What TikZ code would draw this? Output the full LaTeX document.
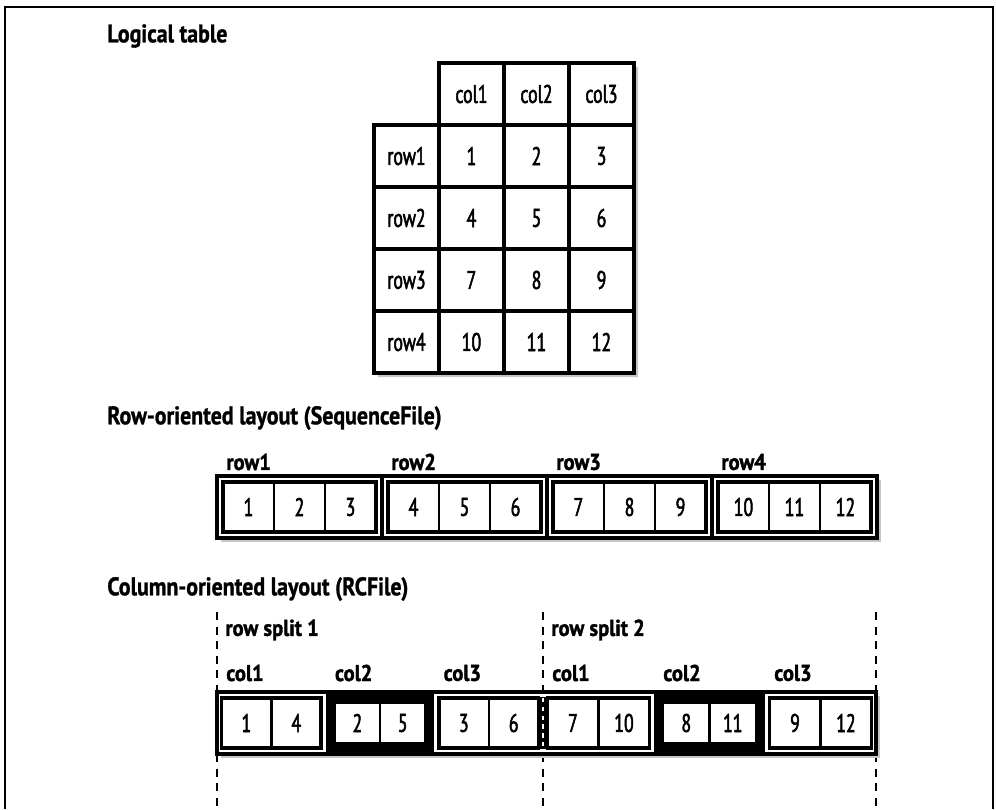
\documentclass[tikz,border=0pt]{standalone}
\usepackage{fontspec}
\setmainfont{PT Sans}[FakeStretch=0.86]
\newfontfamily\titlefont{PT Sans Bold}[FakeStretch=0.86, FakeBold=1]
\newfontfamily\cellfont{PT Sans}[FakeStretch=0.7, FakeBold=2]
\newfontfamily\labelfont{PT Sans Bold}[FakeStretch=0.9, FakeBold=1.5]
\usetikzlibrary{positioning,backgrounds}

\begin{document}
\begin{tikzpicture}[
    x=0.02cm, y=-0.02cm,
    title node/.style={font=\titlefont\fontsize{14.5}{16}\selectfont, anchor=west, inner sep=0pt},
    label node/.style={font=\labelfont\fontsize{13}{15}\selectfont, anchor=west, inner sep=0pt},
    grid cell/.style={rectangle, draw, fill=white, line width=2pt, minimum width=1.3cm, minimum height=1.24cm, inner sep=0pt, outer sep=0pt, font=\cellfont\fontsize{14.5}{16}\selectfont},
    seq cell/.style={rectangle, draw, fill=white, line width=1.4pt, minimum width=1.02cm, minimum height=1cm, inner sep=0pt, outer sep=0pt, font=\cellfont\fontsize{14.5}{16}\selectfont},
    col cell/.style={rectangle, draw, fill=white, line width=1.4pt, inner sep=0pt, outer sep=0pt, font=\cellfont\fontsize{14.5}{16}\selectfont},
    thick box/.style={draw, line width=2pt},
    shade box/.style={fill=gray!45, draw=none},
    split line/.style={line width=1.4pt, dash pattern=on 4.5pt off 3.8pt}
]
  \useasboundingbox (0,0) rectangle (996,809);
  % outer frame, open at the bottom
  \draw[line width=1.3pt] (5,809) -- (5,7) -- (993,7) -- (993,809);

  \node[title node] (t-logical) at (107,36) {Logical table};
  \node[title node] (t-row) at (107,418) {Row-oriented layout (SequenceFile)};
  \node[title node] (t-col) at (107,589) {Column-oriented layout (RCFile)};

  % logical table
  \fill[shade box] (443,67) -- (638,67) -- (638,377) -- (378,377) -- (378,129) -- (443,129) -- cycle;
  \foreach \c in {1,2,3}
    \node[grid cell] (h-\c) at (406.5+65*\c,94) {col\c};
  \foreach \r in {1,...,4} {
    \node[grid cell] (r-\r) at (406.5,94+62*\r) {row\r};
    \foreach \c in {1,2,3} {
      \pgfmathtruncatemacro\v{3*(\r-1)+\c}
      \node[grid cell] (v-\r-\c) at (406.5+65*\c,94+62*\r) {\v};
    }
  }

  % row-oriented layout
  \fill[shade box] (221,480) rectangle (881,542);
  \foreach \g in {0,...,3} {
    \pgfmathsetmacro\gx{217+165*\g}
    \pgfmathtruncatemacro\rn{\g+1}
    \node[label node] (rl-\rn) at (\gx+9,462) {row\rn};
    \draw[thick box, fill=white] (\gx,476) rectangle ++(165,62);
    \foreach \k in {1,2,3} {
      \pgfmathtruncatemacro\v{3*\g+\k}
      \node[seq cell] (s-\v) at (\gx+6+51*\k-25.5,507) {\v};
    }
    \draw[thick box] (\gx+6,482) rectangle ++(153,50);
  }

  % column-oriented layout
  \foreach \x in {217,543,876} {
    \draw[split line] (\x,612) -- (\x,692);
    \draw[split line] (\x,754) -- (\x,809);
  }
  \fill[shade box] (221,696) rectangle (880,758);
  \draw[thick box, fill=white] (217,692) rectangle (876,754);
  \foreach \s/\sx/\gw in {1/217/108.7,2/543/111} {
    \node[label node] (rs-\s) at (\sx+8,630) {row split \s};
    \foreach \c in {1,2,3} {
      \pgfmathsetmacro\gl{\sx+\gw*(\c-1)}
      \pgfmathtruncatemacro\va{\c+6*(\s-1)}
      \pgfmathtruncatemacro\vb{\va+3}
      \node[label node] (cl-\s-\c) at (\gl+9,673) {col\c};
      \ifnum\c=2
        \fill (\gl,692) rectangle ++(\gw,62);
        \pgfmathsetmacro\cw{(\gw-18)/2}
        \node[col cell, minimum width=\cw*0.02cm, minimum height=0.8cm] (c-\va) at (\gl+9+\cw/2,723) {\va};
        \node[col cell, minimum width=\cw*0.02cm, minimum height=0.8cm, right=0pt of c-\va] (c-\vb) {\vb};
      \else
        \pgfmathsetmacro\cw{(\gw-9)/2}
        \node[col cell, minimum width=\cw*0.02cm, minimum height=1cm] (c-\va) at (\gl+4.5+\cw/2,723) {\va};
        \node[col cell, minimum width=\cw*0.02cm, minimum height=1cm, right=0pt of c-\va] (c-\vb) {\vb};
        \draw[thick box] (\gl+4.5,698) rectangle (\gl+\gw-4.5,748);
      \fi
    }
  }
  % split boundary inside the bar
  \draw[line width=3pt] (543,697) -- (543,749);
  \draw[white, line width=1.2pt, dash pattern=on 2.5pt off 2.5pt] (543,698) -- (543,748);
\end{tikzpicture}
\end{document}
